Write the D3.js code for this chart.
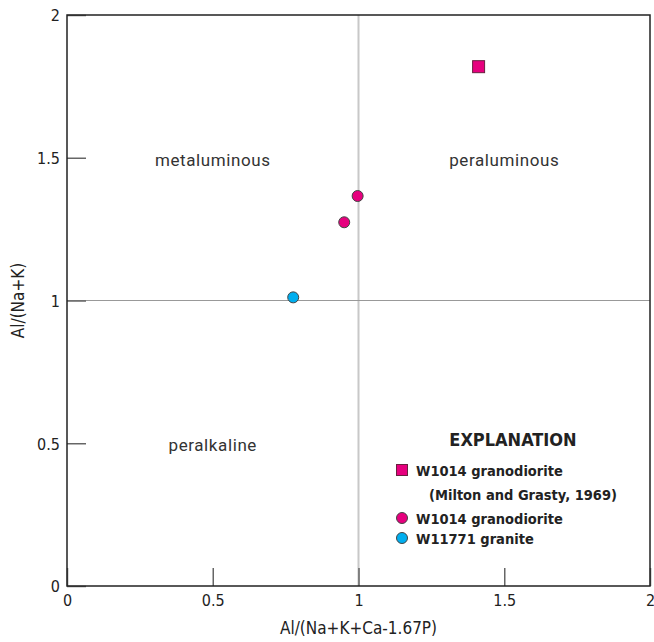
<!DOCTYPE html>
<html>
<head>
<meta charset="utf-8">
<script src="https://cdn.jsdelivr.net/npm/d3@7"></script>
<style>
  body { margin: 0; background: #fff; }
  .cond { font-family: "Liberation Sans Narrow", "DejaVu Sans Condensed", "Roboto", sans-serif; }
</style>
</head>
<body>
<div id="chart"></div>
<script>
// data
const squarePoints = [{ x: 1.412, y: 1.819 }];
const w1014Points = [{ x: 0.997, y: 1.366 }, { x: 0.951, y: 1.274 }];
const w11771Points = [{ x: 0.776, y: 1.011 }];
const tickValues = [0, 0.5, 1, 1.5, 2];
const regionLabels = [
    { text: 'metaluminous', x: 0.5, y: 1.5 },
    { text: 'peraluminous', x: 1.5, y: 1.5 },
    { text: 'peralkaline', x: 0.5, y: 0.5 }
];
const legendItems = [
    { shape: 'square', color: '#e6007e', lines: ['W1014 granodiorite', '(Milton and Grasty, 1969)'] },
    { shape: 'circle', color: '#e6007e', lines: ['W1014 granodiorite'] },
    { shape: 'circle', color: '#00aeef', lines: ['W11771 granite'] }
];

const margin = { top: 15, right: 4, bottom: 56, left: 67 };
const width = 654 - margin.left - margin.right;
const height = 642 - margin.top - margin.bottom;

const svg = d3.select('#chart').append('svg')
    .attr('width', 654)
    .attr('height', 642)
    .append('g')
    .attr('transform', `translate(${margin.left},${margin.top})`);

const xScale = d3.scaleLinear().domain([0, 2]).range([0, width]);
const yScale = d3.scaleLinear().domain([0, 2]).range([height, 0]);

// divider lines at 1
svg.append('line')
    .attr('x1', xScale(1)).attr('x2', xScale(1))
    .attr('y1', 0).attr('y2', height)
    .attr('stroke', '#c8c8c8').attr('stroke-width', 2);
svg.append('line')
    .attr('x1', 0).attr('x2', width)
    .attr('y1', yScale(1)).attr('y2', yScale(1))
    .attr('stroke', '#999').attr('stroke-width', 1.2);

// axes, ticks pointing inward
const fmt = d => d3.format('')(d);
const xAxis = svg.append('g')
    .attr('transform', `translate(0,${height})`)
    .call(d3.axisBottom(xScale).tickValues(tickValues).tickFormat(fmt).tickSize(-18).tickPadding(9));
const yAxis = svg.append('g')
    .call(d3.axisLeft(yScale).tickValues(tickValues).tickFormat(fmt).tickSize(-19).tickPadding(7));
[xAxis, yAxis].forEach(a => {
    a.select('.domain').remove();
    a.selectAll('line').attr('stroke', '#666').attr('stroke-width', 1.5);
    a.selectAll('text').attr('class', 'cond').style('font-size', '16px').attr('fill', '#222');
});
yAxis.selectAll('text').attr('dy', '0.36em');

// frame
svg.append('rect')
    .attr('width', width).attr('height', height)
    .attr('fill', 'none').attr('stroke', '#222').attr('stroke-width', 1.5);

// axis titles
svg.append('text')
    .attr('class', 'cond')
    .attr('x', width / 2).attr('y', height + 48)
    .attr('text-anchor', 'middle')
    .style('font-size', '17px').attr('fill', '#222')
    .text('Al/(Na+K+Ca-1.67P)');
svg.append('text')
    .attr('class', 'cond')
    .attr('transform', 'rotate(-90)')
    .attr('x', -yScale(1)).attr('y', -margin.left + 24)
    .attr('text-anchor', 'middle')
    .style('font-size', '17px').attr('fill', '#222')
    .text('Al/(Na+K)');

// region labels
svg.selectAll('.region')
    .data(regionLabels)
    .enter()
    .append('text')
    .attr('class', 'region')
    .attr('x', d => xScale(d.x))
    .attr('y', d => yScale(d.y) + 8)
    .attr('text-anchor', 'middle')
    .style('font-family', 'Roboto, sans-serif')
    .style('font-size', '17px')
    .style('letter-spacing', '0.6px')
    .attr('fill', '#333')
    .text(d => d.text);

// points
svg.selectAll('.sq')
    .data(squarePoints)
    .enter()
    .append('rect')
    .attr('x', d => xScale(d.x) - 6)
    .attr('y', d => yScale(d.y) - 6)
    .attr('width', 12).attr('height', 12)
    .attr('fill', '#e6007e').attr('stroke', '#6a2040').attr('stroke-width', 1);

svg.selectAll('.w1014')
    .data(w1014Points)
    .enter()
    .append('circle')
    .attr('cx', d => xScale(d.x))
    .attr('cy', d => yScale(d.y))
    .attr('r', 5.5)
    .attr('fill', '#e6007e').attr('stroke', '#444').attr('stroke-width', 1);

svg.selectAll('.w11771')
    .data(w11771Points)
    .enter()
    .append('circle')
    .attr('cx', d => xScale(d.x))
    .attr('cy', d => yScale(d.y))
    .attr('r', 5.5)
    .attr('fill', '#00aeef').attr('stroke', '#444').attr('stroke-width', 1);

// legend
const legend = svg.append('g').attr('transform', `translate(${402 - margin.left},${440 - margin.top})`);
legend.append('text')
    .attr('class', 'cond')
    .attr('x', 111).attr('y', 6)
    .attr('text-anchor', 'middle')
    .style('font-size', '18px').style('font-weight', 'bold').attr('fill', '#222')
    .text('EXPLANATION');

let rowY = 30;
legendItems.forEach(item => {
    if (item.shape === 'square') {
        legend.append('rect')
            .attr('x', -5.5).attr('y', rowY - 5.5)
            .attr('width', 11).attr('height', 11)
            .attr('fill', item.color).attr('stroke', '#6a2040');
    } else {
        legend.append('circle')
            .attr('cx', 0).attr('cy', rowY).attr('r', 5.5)
            .attr('fill', item.color).attr('stroke', '#444');
    }
    item.lines.forEach((line, i) => {
        legend.append('text')
            .attr('class', 'cond')
            .attr('x', i === 0 ? 14 : 27)
            .attr('y', rowY + 6 + i * 24)
            .style('font-size', '14.5px').style('font-weight', 'bold').attr('fill', '#222')
            .text(line);
    });
    rowY += 20 + (item.lines.length - 1) * 28;
});
</script>
</body>
</html>
